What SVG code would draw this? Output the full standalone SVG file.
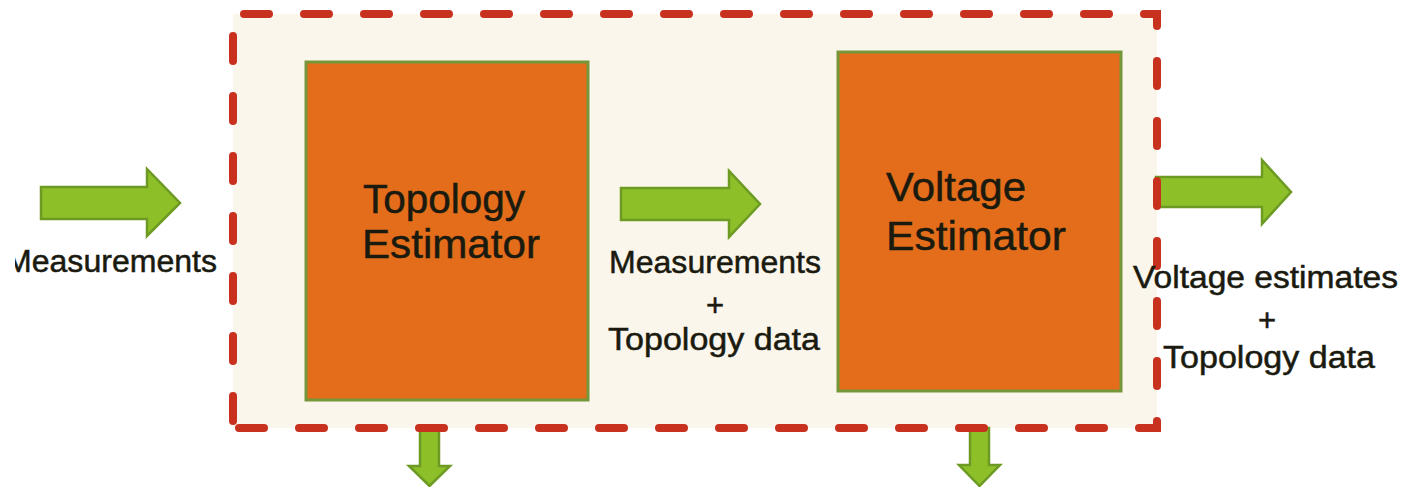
<svg xmlns="http://www.w3.org/2000/svg" width="1407" height="487" viewBox="0 0 1407 487">
  <style>
    .lbl { font-family: "Liberation Sans", Arial, sans-serif; fill: #1a1a0f; stroke: #1a1a0f; stroke-width: 0.5; }
    .box { fill: #e36d1a; stroke: #76963a; stroke-width: 3; }
    .arrow { fill: #8dbf29; stroke: #6c9a22; stroke-width: 2.5; stroke-linejoin: miter; }
    .dash { fill: none; stroke: #c9311f; stroke-width: 8; stroke-linecap: round; stroke-dasharray: 25 35; }
  </style>
  <defs>
    <clipPath id="leftClip">
      <rect x="15" y="0" width="400" height="487"/>
    </clipPath>
  </defs>
  <rect x="0" y="0" width="1407" height="487" fill="#ffffff"/>

  <g id="container-bg">
    <rect x="233" y="14" width="924" height="414" fill="#fbf6ec"/>
  </g>

  <g id="topology-estimator">
    <rect class="box" x="306" y="62" width="282" height="338"/>
    <text class="lbl" x="363" y="213" font-size="41" textLength="162" lengthAdjust="spacingAndGlyphs">Topology</text>
    <text class="lbl" x="362" y="258" font-size="41" textLength="178" lengthAdjust="spacingAndGlyphs">Estimator</text>
  </g>

  <g id="voltage-estimator">
    <rect class="box" x="838" y="52" width="283" height="339"/>
    <text class="lbl" x="886" y="201" font-size="41" textLength="140" lengthAdjust="spacingAndGlyphs">Voltage</text>
    <text class="lbl" x="886" y="250" font-size="41" textLength="180" lengthAdjust="spacingAndGlyphs">Estimator</text>
  </g>

  <g id="connectors">
    <path class="arrow" d="M41,187 H147 V169 L180,203 L147,236 V219 H41 Z"/>
    <path class="arrow" d="M621,188 H729 V171 L760,204 L729,237 V220 H621 Z"/>
    <path class="arrow" d="M1156,177 H1262 V160 L1291,192 L1262,224 V207 H1156 Z"/>
    <path class="arrow" d="M420,428 H439 V466 H450 L429.5,486 L409,466 H420 Z"/>
    <path class="arrow" d="M970,428 H989 V465 H1000 L979.5,486 L959,465 H970 Z"/>
  </g>

  <g id="container-border">
    <path class="dash" d="M233,14 H1157 V428 H233" stroke-dashoffset="49"/>
    <path class="dash" d="M233,14 V428" stroke-dashoffset="38"/>
  </g>

  <g id="labels">
    <text class="lbl" x="5" y="272" font-size="31" textLength="212" lengthAdjust="spacingAndGlyphs" clip-path="url(#leftClip)">Measurements</text>
    <text class="lbl" x="609" y="273" font-size="31" textLength="212" lengthAdjust="spacingAndGlyphs">Measurements</text>
    <text class="lbl" x="715" y="316" font-size="31" text-anchor="middle">+</text>
    <text class="lbl" x="608" y="350" font-size="31" textLength="212" lengthAdjust="spacingAndGlyphs">Topology data</text>
    <text class="lbl" x="1133" y="288" font-size="31" textLength="265" lengthAdjust="spacingAndGlyphs">Voltage estimates</text>
    <text class="lbl" x="1267" y="331" font-size="31" text-anchor="middle">+</text>
    <text class="lbl" x="1163" y="368" font-size="31" textLength="212" lengthAdjust="spacingAndGlyphs">Topology data</text>
  </g>
</svg>
